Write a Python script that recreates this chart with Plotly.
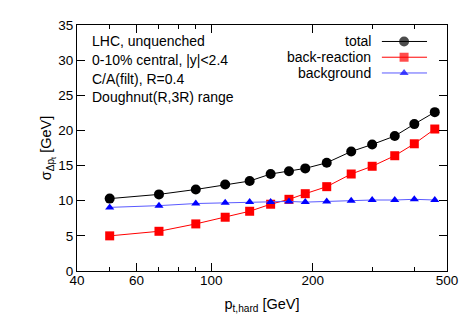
import math
import plotly.graph_objects as go

# data
pt_hard = [50, 70, 90, 110, 130, 150, 170, 190, 220, 260, 300, 350, 400, 460]
total = [10.3, 10.9, 11.6, 12.3, 12.8, 13.8, 14.2, 14.6, 15.4, 17.0, 18.0, 19.2, 20.9, 22.6]
back_reaction = [5.0, 5.65, 6.7, 7.65, 8.5, 9.5, 10.2, 11.0, 12.0, 13.8, 14.9, 16.4, 18.1, 20.2]
background = [9.05, 9.3, 9.6, 9.7, 9.8, 9.8, 9.9, 9.8, 9.9, 10.0, 10.1, 10.1, 10.2, 10.1]

series_names = ["total", "back-reaction", "background"]
series_colors = ["black", "red", "blue"]
line_colors = ["black", "red", "#5a5aff"]
series_symbols = ["circle", "square", "triangle-up"]
series_sizes = [10, 9, 8]

info_lines = ["LHC, unquenched", "0-10% central, |y|<2.4", "C/A(filt), R=0.4", "Doughnut(R,3R) range"]

x_ticks = [40, 60, 100, 200, 500]
x_minor = [50, 70, 80, 90, 300, 400]

FONT = "Liberation Sans, Arial, sans-serif"

fig = go.Figure()
for ys, name, c, lc, sym, sz in zip([total, back_reaction, background], series_names,
                                     series_colors, line_colors, series_symbols, series_sizes):
    fig.add_trace(go.Scatter(
        x=pt_hard, y=ys, mode="lines+markers", name=name,
        line=dict(color=lc, width=1),
        marker=dict(color=c, symbol=sym, size=sz, line=dict(width=0)),
        showlegend=False,
    ))

# gnuplot style key: text on the left, sample on the right
key_y = [0.933, 0.869, 0.805]
for name, c, lc, sym, sz, ky in zip(series_names, series_colors, line_colors,
                                     series_symbols, series_sizes, key_y):
    fig.add_trace(go.Scatter(
        x=[0.824, 0.884, 0.946], y=[ky, ky, ky], xaxis="x2", yaxis="y2",
        mode="lines+markers", line=dict(color=lc, width=1),
        marker=dict(color=c, symbol=sym, size=[0, sz, 0], line=dict(width=0)),
        showlegend=False, hoverinfo="skip",
    ))
    fig.add_annotation(x=0.80, y=ky, xref="paper", yref="paper", text=name,
                       showarrow=False, xanchor="right", yanchor="middle",
                       font=dict(size=14, color="black", family=FONT))

for i, t in enumerate(info_lines):
    fig.add_annotation(x=0.036, y=0.933 - i * 0.0755, xref="paper", yref="paper", text=t,
                       showarrow=False, xanchor="left", yanchor="middle",
                       font=dict(size=14, color="black", family=FONT))

axis_common = dict(showline=True, linecolor="black", linewidth=1, mirror="allticks",
                   ticks="inside", ticklen=8, tickcolor="black", showgrid=False,
                   zeroline=False, tickfont=dict(size=13.5, color="black", family=FONT))

# page body has an 8px margin, so the figure is 8px smaller than the window
fig.update_layout(
    width=462, height=321,
    margin=dict(l=69, r=23, t=10, b=58),
    plot_bgcolor="white", paper_bgcolor="white",
    font=dict(family=FONT, color="black"),
    xaxis=dict(type="log", range=[math.log10(40), math.log10(500)],
               tickvals=x_ticks, ticktext=[str(v) for v in x_ticks],
               minor=dict(tickvals=x_minor, ticks="inside", ticklen=4, tickcolor="black"),
               ticklabelstandoff=-3,
               title=dict(text="p<sub>t,hard</sub> [GeV]", font=dict(size=14.5), standoff=11),
               **axis_common),
    yaxis=dict(range=[0, 35], dtick=5,
               title=dict(text="σ<sub>Δp<sub>t</sub></sub> [GeV]", font=dict(size=14.5), standoff=0),
               **axis_common),
    xaxis2=dict(overlaying="x", range=[0, 1], visible=False),
    yaxis2=dict(overlaying="y", range=[0, 1], visible=False),
)

fig.write_html("out.html")
